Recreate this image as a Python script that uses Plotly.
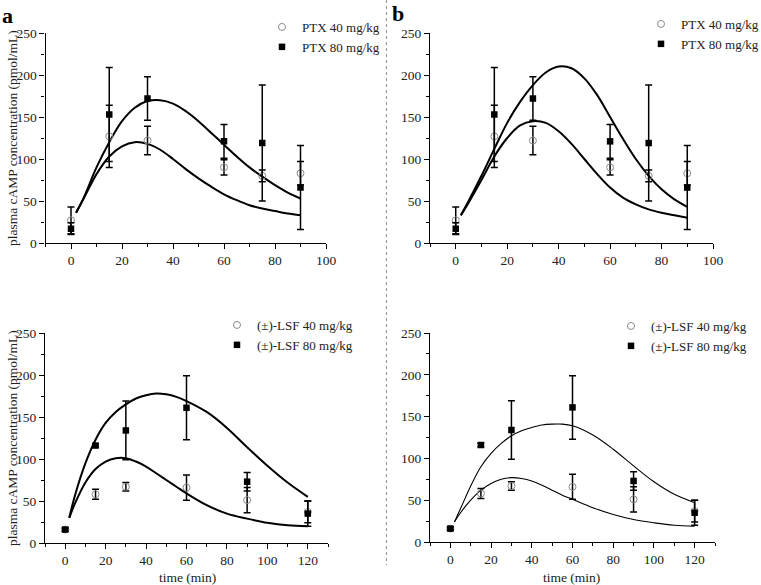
import plotly.graph_objects as go

# ---------------- data ----------------
# observed points (PTX)
ptx_t = [0, 15, 30, 60, 75, 90]
ptx40_y = [27, 127, 122, 90, 80, 83]
ptx40_err = [16, 37, 17, 9, 7, 14]
ptx80_y = [17, 153, 172, 121, 119, 66]
ptx80_err = [7, 56, 26, 20, 69, 50]

# observed points (LSF)
lsf_t = [0, 15, 30, 60, 90, 120]
lsf40_y = [16, 58, 67, 66, 51, 37]
lsf40_err = [2, 6, 5, 15, 15, 13]
lsf80_y = [16, 116, 134, 161, 73, 35]
lsf80_err = [2, 2, 35, 38, 11, 15]

# fitted curves, panel a
fa_t = [2, 5, 10, 15, 20, 25, 30, 35, 40, 45, 50, 55, 60, 65, 70, 75, 80, 85, 90]
fa40 = [36, 53, 82, 103, 115, 120, 118, 111, 100, 88, 77, 67, 58, 51, 45, 41, 38, 35, 33]
fa80 = [36, 54, 90, 120, 145, 161, 169, 170, 166, 157, 145, 131, 117, 103, 90, 79, 69, 60, 53]

# fitted curves, panel b
fb_t = [2, 5, 10, 15, 20, 25, 30, 35, 40, 45, 50, 55, 60, 65, 70, 75, 80, 85, 90]
fb40 = [33, 48, 75, 103, 125, 140, 145, 143, 133, 118, 100, 82, 66, 54, 46, 40, 36, 33, 30]
fb80 = [33, 50, 80, 112, 143, 168, 188, 203, 210, 208, 196, 176, 150, 124, 100, 80, 64, 52, 43]

# fitted curves, panel c
fc_t = [2, 5, 10, 15, 20, 25, 30, 35, 40, 45, 50, 55, 60, 70, 80, 90, 100, 110, 120]
fc40 = [30, 48, 72, 88, 97, 101, 101, 97, 91, 83, 75, 67, 59, 45, 35, 29, 24, 21, 20]
fc80 = [30, 58, 95, 123, 143, 156, 165, 172, 176, 178, 177, 174, 169, 156, 137, 114, 92, 72, 55]

# fitted curves, panel d
fd_t = [2, 5, 10, 15, 20, 25, 30, 35, 40, 45, 50, 55, 60, 70, 80, 90, 100, 110, 120]
fd40 = [24, 35, 50, 62, 70, 75, 77, 76, 73, 68, 62, 56, 51, 41, 33, 27, 23, 20, 19]
fd80 = [24, 40, 67, 90, 106, 118, 127, 133, 137, 140, 141, 141, 139, 128, 111, 91, 72, 57, 47]

ptx_names = ["PTX 40 mg/kg", "PTX 80 mg/kg"]
lsf_names = ["(\u00b1)-LSF 40 mg/kg", "(\u00b1)-LSF 80 mg/kg"]
y_title = "plasma cAMP concentration (pmol/mL)"
x_title = "time (min)"

# ---------------- figure ----------------
W, H = 761, 585
FONT = "Liberation Serif"

def px_x(p):
    return p / W

def px_y(p):
    return 1 - p / H

fig = go.Figure()

panels = [
    ("x", "y", "legend", fa_t, fa40, fa80, ptx_t, ptx40_y, ptx40_err, ptx80_y, ptx80_err, ptx_names, 2),
    ("x2", "y2", "legend2", fb_t, fb40, fb80, ptx_t, ptx40_y, ptx40_err, ptx80_y, ptx80_err, ptx_names, 2),
    ("x3", "y3", "legend3", fc_t, fc40, fc80, lsf_t, lsf40_y, lsf40_err, lsf80_y, lsf80_err, lsf_names, 2),
    ("x4", "y4", "legend4", fd_t, fd40, fd80, lsf_t, lsf40_y, lsf40_err, lsf80_y, lsf80_err, lsf_names, 1.1),
]

for (xa, ya, lg, ct, c40, c80, ot, y40, e40, y80, e80, names, lw) in panels:
    for cy in (c40, c80):
        fig.add_trace(go.Scatter(x=ct, y=cy, mode="lines", xaxis=xa, yaxis=ya,
                                 line=dict(color="black", width=lw, shape="spline", smoothing=1.0),
                                 showlegend=False, hoverinfo="skip"))
    fig.add_trace(go.Scatter(x=ot, y=y40, mode="markers", xaxis=xa, yaxis=ya, name=names[0],
                             legend=lg,
                             marker=dict(symbol="circle-open", color="#8a8a8a", size=7, line=dict(width=1)),
                             error_y=dict(type="data", array=e40, visible=True, color="black",
                                          thickness=1.5, width=3.5)))
    fig.add_trace(go.Scatter(x=ot, y=y80, mode="markers", xaxis=xa, yaxis=ya, name=names[1],
                             legend=lg,
                             marker=dict(symbol="square", color="black", size=6.5),
                             error_y=dict(type="data", array=e80, visible=True, color="black",
                                          thickness=1.5, width=3.5)))

axis_common = dict(showline=True, linecolor="black", linewidth=1.2, ticks="outside",
                   ticklen=5, tickwidth=1.2, tickcolor="black", showgrid=False, zeroline=False,
                   automargin=False,
                   tickfont=dict(family=FONT, size=13.5, color="#222"),
                   minor=dict(ticks="outside", ticklen=3, tickwidth=1, tickcolor="black", showgrid=False))

dom = {
    "a": ([45.5, 326], [33, 243]),
    "b": ([430, 713], [33, 243]),
    "c": ([45, 328], [333, 543]),
    "d": ([430, 715], [333, 542]),
}

def xd(p):
    return [px_x(p[0]), px_x(p[1])]

def yd(p):
    return [px_y(p[1]), px_y(p[0])]

xr_top = [-10, 100]
xr_bot = [-10, 130]
layout_axes = {}
for key, xa, ya, xr in [("a", "xaxis", "yaxis", xr_top), ("b", "xaxis2", "yaxis2", xr_top),
                        ("c", "xaxis3", "yaxis3", xr_bot), ("d", "xaxis4", "yaxis4", xr_bot)]:
    anchor_y = "y" + ya[5:] if ya != "yaxis" else "y"
    anchor_x = "x" + xa[5:] if xa != "xaxis" else "x"
    layout_axes[xa] = dict(axis_common, domain=xd(dom[key][0]), range=xr, anchor=anchor_y,
                           tick0=0, dtick=20,
                           minor=dict(axis_common["minor"], dtick=10, tick0=0))
    layout_axes[ya] = dict(axis_common, domain=yd(dom[key][1]), range=[0, 250], anchor=anchor_x,
                           tick0=0, dtick=50,
                           minor=dict(axis_common["minor"], dtick=25, tick0=0))

fig.update_layout(**layout_axes)

leg_common = dict(font=dict(family=FONT, size=13, color="#222"), bgcolor="rgba(0,0,0,0)",
                  borderwidth=0, xanchor="left", yanchor="top", tracegroupgap=0,
                  itemwidth=30)
fig.update_layout(
    legend=dict(leg_common, x=px_x(262), y=px_y(12)),
    legend2=dict(leg_common, x=px_x(641), y=px_y(9)),
    legend3=dict(leg_common, x=px_x(217), y=px_y(310)),
    legend4=dict(leg_common, x=px_x(611), y=px_y(311)),
)

annotations = [
    dict(text="<b>a</b>", x=px_x(0), y=px_y(1), xanchor="left", yanchor="top",
         font=dict(family=FONT, size=22, color="black")),
    dict(text="<b>b</b>", x=px_x(390), y=px_y(-1), xanchor="left", yanchor="top",
         font=dict(family=FONT, size=22, color="black")),
    dict(text=y_title, x=px_x(12), y=px_y(138), textangle=-90, xanchor="center", yanchor="middle",
         font=dict(family=FONT, size=13.5, color="#222")),
    dict(text=y_title, x=px_x(12), y=px_y(438), textangle=-90, xanchor="center", yanchor="middle",
         font=dict(family=FONT, size=13.5, color="#222")),
    dict(text=x_title, x=px_x(187), y=px_y(577), xanchor="center", yanchor="middle",
         font=dict(family=FONT, size=13.5, color="#222")),
    dict(text=x_title, x=px_x(571), y=px_y(577), xanchor="center", yanchor="middle",
         font=dict(family=FONT, size=13.5, color="#222")),
]
for a in annotations:
    a.update(xref="paper", yref="paper", showarrow=False)

fig.update_layout(
    annotations=annotations,
    shapes=[dict(type="line", xref="paper", yref="paper", x0=px_x(386.5), x1=px_x(386.5),
                 y0=px_y(0), y1=px_y(565), line=dict(color="#9a9a9a", width=1.2, dash="dot"))],
    width=W, height=H, margin=dict(l=0, r=0, t=0, b=0, autoexpand=False),
    paper_bgcolor="white", plot_bgcolor="white",
    font=dict(family=FONT, color="#222"),
)

fig.write_html("out.html",
               config={"displayModeBar": False},
               post_script="document.body.style.margin='0px';"
                           "document.documentElement.style.overflow='hidden';")
